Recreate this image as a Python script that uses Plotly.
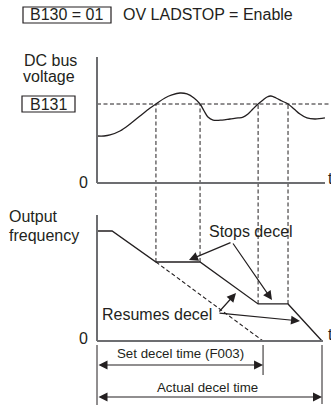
import plotly.graph_objects as go

# ---------------- data ----------------
# DC bus voltage, in % of the B131 stall level, against time (s)
bus_t = [0.00, 0.31, 0.58, 1.02, 1.47, 1.91, 2.36, 2.62, 3.02, 3.33, 3.69, 4.00,
         4.31, 4.58, 4.76, 4.93, 5.16, 5.56, 5.91, 6.27, 6.49, 6.71, 6.93, 7.16,
         7.38, 7.56, 7.73, 7.96, 8.22, 8.49, 8.76, 9.02, 9.33, 9.69, 10.13]
bus_v = [59.5, 59.5, 60.8, 65.8, 74.7, 84.8, 94.9, 100.0, 107.6, 111.4, 113.9, 112.7,
         107.6, 100.0, 91.1, 83.5, 79.7, 79.7, 81.0, 82.3, 83.5, 87.3, 93.7, 100.0,
         105.1, 108.9, 110.1, 107.6, 103.8, 100.0, 93.7, 87.3, 82.3, 81.0, 82.3]
stall_level = 100.0          # B131 threshold

# output frequency (Hz): ramp, hold while bus is high, resume
freq_t = [0.00, 0.67, 2.62, 4.58, 7.16, 8.49, 10.00]
freq_hz = [60.0, 60.0, 43.1, 43.1, 20.2, 20.2, 0.0]

# times where the bus crosses B131 (decel stops / resumes)
event_t = [2.62, 4.58, 7.16, 8.49]
event_hz = [43.1, 43.1, 20.2, 20.2]

set_decel_time = 7.38        # F003
actual_decel_time = 10.00

# ---------------- page geometry (px) ----------------
W, H = 331, 405
X0, PX_PER_S = 97, 22.5          # t = 0 column
V0, PX_PER_V = 183, 0.79         # voltage zero row
F0, PX_PER_HZ = 341, 110 / 60    # frequency zero row

x_range = [-X0 / PX_PER_S, (W - X0) / PX_PER_S]
v_range = [-(H - V0) / PX_PER_V, V0 / PX_PER_V]
f_range = [-(H - F0) / PX_PER_HZ, F0 / PX_PER_HZ]


def px_x(px):
    return (px - X0) / PX_PER_S


def px_hz(py):
    return (F0 - py) / PX_PER_HZ


def px_v(py):
    return (V0 - py) / PX_PER_V


def v_to_hz(v):
    return px_hz(V0 - v * PX_PER_V)


FONT = "Liberation Sans, Arial, Helvetica, sans-serif"
INK = "#231f20"
AXIS = "#6d6e71"
DASH = "4px,2.5px"

fig = go.Figure()

# DC bus voltage curve
fig.add_trace(go.Scatter(x=bus_t, y=bus_v, mode="lines", yaxis="y",
                         line=dict(color=INK, width=1.3, shape="spline", smoothing=1.0),
                         hoverinfo="skip"))

# B131 level
fig.add_trace(go.Scatter(x=[0, x_range[1]], y=[stall_level, stall_level], mode="lines",
                         yaxis="y", line=dict(color=INK, width=1, dash=DASH),
                         hoverinfo="skip"))

# vertical guides from the B131 crossings down to the frequency trace
gx, gy = [], []
for t, f in zip(event_t, event_hz):
    gx += [t, t, None]
    gy += [f, v_to_hz(stall_level), None]
fig.add_trace(go.Scatter(x=gx, y=gy, mode="lines", yaxis="y2",
                         line=dict(color=INK, width=1, dash=DASH), hoverinfo="skip"))

# programmed decel ramp (continuation)
fig.add_trace(go.Scatter(x=[event_t[0], set_decel_time], y=[event_hz[0], 0],
                         mode="lines", yaxis="y2",
                         line=dict(color=INK, width=1.1, dash=DASH), hoverinfo="skip"))

# output frequency
fig.add_trace(go.Scatter(x=freq_t, y=freq_hz, mode="lines", yaxis="y2",
                         line=dict(color=INK, width=1.3), hoverinfo="skip"))

annotations = []


def arrow(x0, y0, x1, y1, side="end"):
    annotations.append(dict(
        x=x1, y=y1, ax=x0, ay=y0, xref="x", yref="y2", axref="x", ayref="y2",
        text="", showarrow=True, arrowhead=2, startarrowhead=2, arrowside=side,
        arrowsize=1.5, startarrowsize=1.5, arrowwidth=1.2, arrowcolor=INK,
        standoff=0, startstandoff=0))


# callouts
stop_v = (px_x(232), px_hz(242))
arrow(*stop_v, px_x(189), px_hz(260))
arrow(*stop_v, px_x(272), px_hz(300))
res_v = (px_x(218), px_hz(313))
arrow(*res_v, px_x(236), px_hz(293))
arrow(*res_v, px_x(300), px_hz(321))

# dimension arrows
for t_end, py in [(set_decel_time, 365), (actual_decel_time, 397)]:
    arrow(0, px_hz(py), t_end, px_hz(py), side="end+start")

shapes = []
# axes
shapes.append(dict(type="line", xref="x", yref="y", x0=0, x1=0, y0=0, y1=px_v(57),
                   line=dict(color=AXIS, width=2)))
shapes.append(dict(type="line", xref="x", yref="y", x0=0, x1=px_x(325), y0=0, y1=0,
                   line=dict(color=AXIS, width=2)))
shapes.append(dict(type="line", xref="x", yref="y2", x0=0, x1=0, y0=0, y1=px_hz(215),
                   line=dict(color=AXIS, width=2)))
shapes.append(dict(type="line", xref="x", yref="y2", x0=0, x1=px_x(323), y0=0, y1=0,
                   line=dict(color=AXIS, width=2)))
# extension lines for the dimensions
for t, ybot in [(0, 405), (set_decel_time, 375), (actual_decel_time, 404)]:
    shapes.append(dict(type="line", xref="x", yref="paper", x0=t, x1=t,
                       y0=1 - 345 / H, y1=1 - ybot / H,
                       line=dict(color=INK, width=1)))
# parameter boxes
for x0, x1, y0, y1 in [(23, 111, 7, 23), (22, 75, 96, 112)]:
    shapes.append(dict(type="rect", xref="paper", yref="paper",
                       x0=x0 / W, x1=x1 / W, y0=1 - y0 / H, y1=1 - y1 / H,
                       line=dict(color=INK, width=1.2), fillcolor="rgba(0,0,0,0)"))


def label(text, px, py, size=16, anchor="center"):
    return dict(text=text, xref="paper", yref="paper", x=px / W, y=1 - py / H,
                xanchor=anchor, yanchor="middle", showarrow=False,
                font=dict(family=FONT, size=size, color=INK))


annotations += [
    label("B130 = 01", 67, 15),
    label("OV LADSTOP = Enable", 121, 15, anchor="left"),
    label("DC bus", 50, 60),
    label("voltage", 49, 77),
    label("B131", 48, 104),
    label("0", 90, 182, anchor="right"),
    label("t", 326, 178, anchor="left"),
    label("Output", 7, 217, anchor="left"),
    label("frequency", 7, 235, anchor="left"),
    label("0", 90, 338, anchor="right"),
    label("t", 326, 334, anchor="left"),
    label("Stops decel", 251, 231),
    label("Resumes decel", 157, 314),
    label("Set decel time (F003)", 180, 353, size=13.3),
    label("Actual decel time", 207, 387, size=13.3),
]

fig.update_layout(
    width=W, height=H, autosize=False,
    margin=dict(l=0, r=0, t=0, b=0, pad=0),
    paper_bgcolor="white", plot_bgcolor="white",
    showlegend=False,
    xaxis=dict(range=x_range, domain=[0, 1], visible=False, fixedrange=True),
    yaxis=dict(range=v_range, domain=[0, 1], visible=False, fixedrange=True),
    yaxis2=dict(range=f_range, domain=[0, 1], visible=False, overlaying="y",
                fixedrange=True),
    shapes=shapes,
    annotations=annotations,
)

fig.write_html("out.html", config={"displayModeBar": False})
